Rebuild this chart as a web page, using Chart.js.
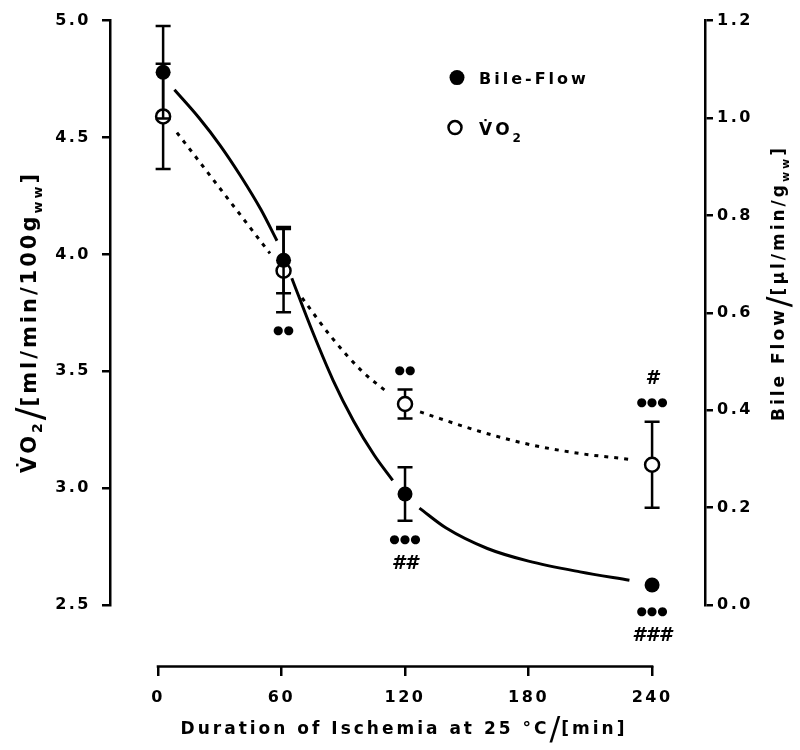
<!DOCTYPE html>
<html>
<head>
<meta charset="utf-8">
<script src="https://cdn.jsdelivr.net/npm/chart.js@4.4.1/dist/chart.umd.min.js"></script>
<style>
  html, body { margin: 0; padding: 0; background: #fff; }
</style>
</head>
<body>
<canvas id="myChart" width="800" height="750"></canvas>
<script>
// measured points (mean +- SD)
var minutes = [2.5, 61, 120, 240];
var vo2 = [4.59, 3.93, 3.36, 3.10];
var vo2Sd = [0.225, 0.178, 0.062, 0.184];
var bile = [1.094, 0.708, 0.228, 0.041];
var bileSd = [0.095, 0.068, 0.055, 0];

// fitted curves, null = gap round a marker
var bileFitX = [8, 20, 30, 40, 50, 57.8, 61, 65, 75, 85, 95, 105, 114, 120, 127, 140, 160, 180, 205, 229];
var bileFitY = [1.058, 1.0, 0.945, 0.882, 0.812, 0.748, null, 0.671, 0.562, 0.462, 0.378, 0.308, 0.256, null, 0.199, 0.158, 0.116, 0.090, 0.068, 0.051];
var vo2FitX = [9.2, 20, 31.6, 42, 54.4, 61, 70, 83.6, 99.6, 111.3, 120, 127.3, 156.5, 180.8, 205.1, 229.3];
var vo2FitY = [4.521, 4.398, 4.265, 4.146, 4.004, null, 3.814, 3.653, 3.496, 3.411, null, 3.326, 3.242, 3.186, 3.148, 3.123];

var xTicks = [0, 60, 120, 180, 240];
var vo2Ticks = [2.5, 3.0, 3.5, 4.0, 4.5, 5.0];
var bileTicks = [0, 0.2, 0.4, 0.6, 0.8, 1.0, 1.2];

// significance marks, nearest to the point first
var vo2Above = [[], [], ["\u25cf\u25cf"], ["\u25cf\u25cf\u25cf", "#"]];
var vo2Below = [[], ["\u25cf\u25cf"], [], []];
var bileBelow = [[], [], ["\u25cf\u25cf\u25cf", "##"], ["\u25cf\u25cf\u25cf", "###"]];

var FONT = "'DejaVu Sans'";

function pts(xs, ys) {
  return xs.map(function (x, i) { return { x: x, y: ys[i] }; });
}

function fixTicks(list) {
  return function (scale) {
    scale.ticks = list.map(function (v) { return { value: v }; });
  };
}

function fixWidth(w) {
  return function (scale) { scale.width = w; };
}

// draws a row of text pieces along a baseline, centred on 0 (or starting at 0)
function drawPieces(ctx, pieces, spacing, alignLeft) {
  var total = 0;
  pieces.forEach(function (p) {
    ctx.font = (p.weight || "bold") + " " + p.size + "px " + FONT;
    ctx.letterSpacing = (p.ls != null ? p.ls : spacing) + "px";
    p.w = ctx.measureText(p.t).width;
    total += p.w;
  });
  var x = alignLeft ? 0 : -total / 2;
  ctx.textAlign = "left";
  ctx.textBaseline = "alphabetic";
  pieces.forEach(function (p) {
    ctx.font = (p.weight || "bold") + " " + p.size + "px " + FONT;
    ctx.letterSpacing = (p.ls != null ? p.ls : spacing) + "px";
    ctx.fillText(p.t, x, p.dy || 0);
    x += p.w;
  });
}

var spacingPlugin = {
  id: "spacing",
  beforeUpdate: function (chart) { chart.ctx.letterSpacing = "2.5px"; },
  beforeDraw: function (chart) { chart.ctx.letterSpacing = "2.5px"; }
};

var errorBars = {
  id: "errorBars",
  beforeDatasetDraw: function (chart, args) {
    var ds = chart.data.datasets[args.index];
    if (!ds.errors) return;
    var ctx = chart.ctx, xs = chart.scales.x, ys = chart.scales[ds.yAxisID];
    ctx.save();
    ctx.strokeStyle = "#000";
    ctx.lineWidth = 2.5;
    ds.data.forEach(function (p, i) {
      var e = ds.errors[i];
      if (!e) return;
      var x = xs.getPixelForValue(p.x);
      var y1 = ys.getPixelForValue(p.y + e);
      var y2 = ys.getPixelForValue(p.y - e);
      ctx.beginPath();
      ctx.moveTo(x, y1); ctx.lineTo(x, y2);
      ctx.moveTo(x - 7.5, y1); ctx.lineTo(x + 7.5, y1);
      ctx.moveTo(x - 7.5, y2); ctx.lineTo(x + 7.5, y2);
      ctx.stroke();
    });
    ctx.restore();
  }
};

var extras = {
  id: "extras",
  afterDraw: function (chart) {
    var ctx = chart.ctx, xs = chart.scales.x, yl = chart.scales.y, yr = chart.scales.y1;
    var area = chart.chartArea;
    ctx.save();
    ctx.fillStyle = "#000";
    ctx.strokeStyle = "#000";

    // detached x axis line, only over 0..240
    var ax = yl.getPixelForValue(chart.options.scales.x.position.y);
    ctx.lineWidth = 2.5;
    ctx.beginPath();
    ctx.moveTo(xs.getPixelForValue(xTicks[0]) - 1.25, ax);
    ctx.lineTo(xs.getPixelForValue(xTicks[xTicks.length - 1]) + 1.25, ax);
    ctx.stroke();

    // significance marks
    function marks(list, vals, sds, scale, dir) {
      list.forEach(function (texts, i) {
        if (!texts.length) return;
        var x = xs.getPixelForValue(minutes[i]);
        var py = scale.getPixelForValue(vals[i]);
        var end = dir < 0 ? Math.min(scale.getPixelForValue(vals[i] + sds[i]), py - 8)
                           : Math.max(scale.getPixelForValue(vals[i] - sds[i]), py + 8);
        var y = end + dir * 19;
        texts.forEach(function (t) {
          ctx.textAlign = "center";
          ctx.textBaseline = "middle";
          if (t.charAt(0) === "#") {
            ctx.letterSpacing = "0px";
            ctx.font = "italic bold 19px " + FONT;
            ctx.fillText(t, x, y);
          } else {
            ctx.letterSpacing = "0px";
            ctx.font = "12px " + FONT;
            ctx.fillText(t, x, y);
          }
          y += dir * 24;
        });
      });
    }
    marks(vo2Above, vo2, vo2Sd, yl, -1);
    marks(vo2Below, vo2, vo2Sd, yl, 1);
    marks(bileBelow, bile, bileSd, yr, 1);

    // legend
    var lx = area.left + 347, ly = area.top + 57;
    ctx.beginPath();
    ctx.arc(lx, ly, 7.5, 0, Math.PI * 2);
    ctx.fill();
    ctx.save();
    ctx.translate(lx + 22, ly + 6);
    drawPieces(ctx, [{ t: "Bile-Flow", size: 16 }], 3, true);
    ctx.restore();
    ctx.beginPath();
    ctx.lineWidth = 2.5;
    ctx.arc(lx - 2, ly + 50, 6.5, 0, Math.PI * 2);
    ctx.stroke();
    ctx.save();
    ctx.translate(lx + 22, ly + 57);
    drawPieces(ctx, [{ t: "V\u0307O", size: 17 }, { t: "2", size: 12, dy: 7 }], 3, true);
    ctx.restore();

    // left axis title
    ctx.save();
    ctx.translate(36, 322);
    ctx.rotate(-Math.PI / 2);
    drawPieces(ctx, [
      { t: "V\u0307O", size: 21 },
      { t: "2", size: 14, dy: 6 },
      { t: "/", size: 38, weight: "normal", dy: 6, ls: 1 },
      { t: "[ml/min/100g", size: 21 },
      { t: "ww", size: 13, dy: 6 },
      { t: "]", size: 21 }
    ], 3);
    ctx.restore();

    // right axis title
    ctx.save();
    ctx.translate(784, 283);
    ctx.rotate(-Math.PI / 2);
    drawPieces(ctx, [
      { t: "Bile Flow", size: 17 },
      { t: "/", size: 32, weight: "normal", dy: 5, ls: 1 },
      { t: "[\u00b5l/min/g", size: 17 },
      { t: "ww", size: 11, dy: 5 },
      { t: "]", size: 17 }
    ], 3);
    ctx.restore();

    // x axis title
    ctx.save();
    ctx.translate(404, 734);
    drawPieces(ctx, [
      { t: "Duration of Ischemia at 25 \u00b0C", size: 17 },
      { t: "/", size: 32, weight: "normal", dy: 5, ls: 1 },
      { t: "[min]", size: 17 }
    ], 3);
    ctx.restore();

    ctx.restore();
  }
};

var tickFont = { family: FONT, size: 16, weight: "bold" };

new Chart("myChart", {
  type: "scatter",
  data: {
    datasets: [
      {
        label: "Bile-Flow",
        data: pts(minutes, bile),
        errors: bileSd,
        yAxisID: "y1",
        order: 1,
        pointRadius: 7.5,
        pointBackgroundColor: "#000",
        pointBorderColor: "#000",
        pointBorderWidth: 0
      },
      {
        label: "VO2",
        data: pts(minutes, vo2),
        errors: vo2Sd,
        yAxisID: "y",
        order: 2,
        pointRadius: 7,
        pointBackgroundColor: "#fff",
        pointBorderColor: "#000",
        pointBorderWidth: 2.5
      },
      {
        label: "Bile fit",
        type: "line",
        data: pts(bileFitX, bileFitY),
        yAxisID: "y1",
        order: 3,
        borderColor: "#000",
        borderWidth: 3,
        pointRadius: 0,
        cubicInterpolationMode: "monotone",
        spanGaps: false,
        fill: false
      },
      {
        label: "VO2 fit",
        type: "line",
        data: pts(vo2FitX, vo2FitY),
        yAxisID: "y",
        order: 4,
        borderColor: "#000",
        borderWidth: 3,
        borderDash: [4, 6],
        pointRadius: 0,
        cubicInterpolationMode: "monotone",
        spanGaps: false,
        fill: false
      }
    ]
  },
  options: {
    responsive: false,
    animation: false,
    layout: { padding: { left: 0, right: 0, top: 15, bottom: 145 } },
    plugins: {
      legend: { display: false },
      tooltip: { enabled: false }
    },
    scales: {
      x: {
        type: "linear",
        position: { y: 2.237 },
        min: -23.3,
        max: 265.7,
        afterBuildTicks: fixTicks(xTicks),
        border: { display: false },
        grid: { drawOnChartArea: false, drawTicks: true, tickLength: 10, color: "#000", lineWidth: 2.5 },
        ticks: { color: "#000", font: tickFont, padding: 12, maxRotation: 0 }
      },
      y: {
        position: "left",
        min: 2.5,
        max: 5.0,
        afterBuildTicks: fixTicks(vo2Ticks),
        afterFit: fixWidth(110),
        border: { display: true, color: "#000", width: 2.5 },
        grid: { drawOnChartArea: false, drawTicks: true, tickLength: 8, color: "#000", lineWidth: 2.5 },
        ticks: {
          color: "#000", font: tickFont, padding: 11,
          callback: function (v) { return v.toFixed(1); }
        }
      },
      y1: {
        position: "right",
        min: 0,
        max: 1.2,
        afterBuildTicks: fixTicks(bileTicks),
        afterFit: fixWidth(95),
        border: { display: true, color: "#000", width: 2.5 },
        grid: { drawOnChartArea: false, drawTicks: true, tickLength: 8, color: "#000", lineWidth: 2.5 },
        ticks: {
          color: "#000", font: tickFont, padding: 4,
          callback: function (v) { return v.toFixed(1); }
        }
      }
    }
  },
  plugins: [spacingPlugin, errorBars, extras]
});
</script>
</body>
</html>
